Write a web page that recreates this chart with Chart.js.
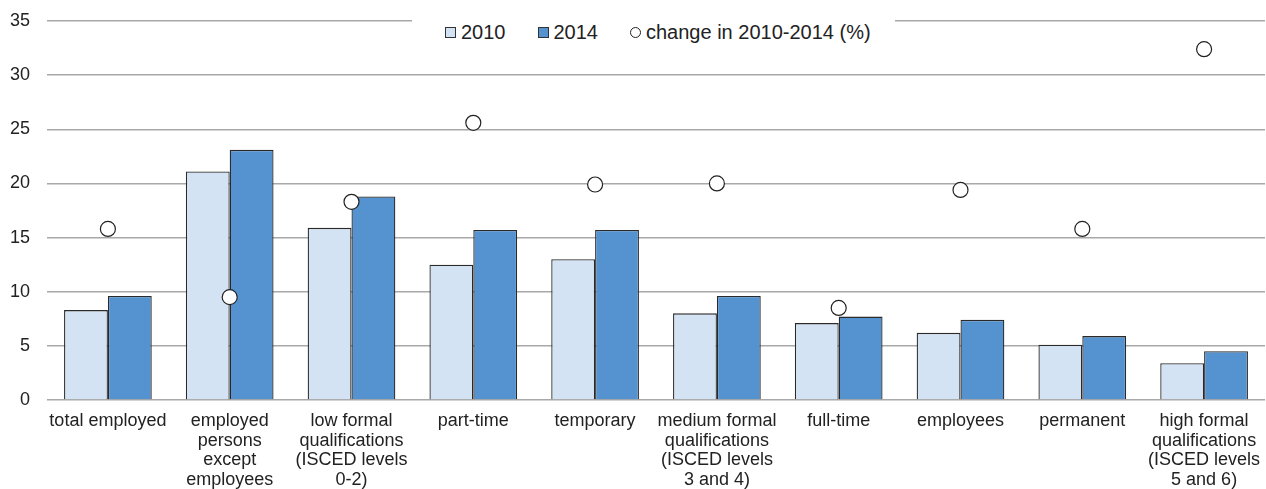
<!DOCTYPE html>
<html lang="en">
<head>
    <meta charset="UTF-8">
    <title>Employment change 2010-2014</title>
    <script src="https://cdn.jsdelivr.net/npm/chart.js"></script>
    <style>
        html, body {
            margin: 0;
            padding: 0;
            background: #fff;
        }

        .wrap {
            position: relative;
            width: 1266px;
            height: 489px;
        }

        .legend {
            position: absolute;
            left: 412px;
            top: 12px;
            width: 483px;
            height: 40px;
            padding-left: 33px;
            box-sizing: border-box;
            background: #fff;
            display: flex;
            align-items: center;
            gap: 32px;
            font-family: "Liberation Sans", Arial, sans-serif;
            font-size: 20px;
            color: #222;
        }

        .legend-item {
            display: flex;
            align-items: center;
            gap: 5px;
        }

        .legend-item .box {
            width: 9px;
            height: 9px;
            border: 1px solid #333;
        }

        .legend-item .dot {
            width: 9px;
            height: 9px;
            border: 1px solid #222;
            border-radius: 50%;
            background: #fff;
        }
    </style>
</head>
<body>
    <div class="wrap">
        <canvas id="chart" width="1266" height="489"></canvas>
        <div class="legend">
            <div class="legend-item"><span class="box" style="background:#d4e3f4"></span><span>2010</span></div>
            <div class="legend-item"><span class="box" style="background:#5592d0"></span><span>2014</span></div>
            <div class="legend-item"><span class="dot"></span><span>change in 2010-2014 (%)</span></div>
        </div>
    </div>

    <script>
        const categories = [
            ['total employed'],
            ['employed', 'persons', 'except', 'employees'],
            ['low formal', 'qualifications', '(ISCED levels', '0-2)'],
            ['part-time'],
            ['temporary'],
            ['medium formal', 'qualifications', '(ISCED levels', '3 and 4)'],
            ['full-time'],
            ['employees'],
            ['permanent'],
            ['high formal', 'qualifications', '(ISCED levels', '5 and 6)']
        ];
        const values2010 = [8.3, 21.1, 15.9, 12.5, 13.0, 8.0, 7.1, 6.2, 5.1, 3.4];
        const values2014 = [9.6, 23.1, 18.8, 15.7, 15.7, 9.6, 7.7, 7.4, 5.9, 4.5];
        const changePct = [15.8, 9.5, 18.3, 25.6, 19.9, 20.0, 8.5, 19.4, 15.8, 32.4];
        const yTicks = [0, 5, 10, 15, 20, 25, 30, 35];

        Chart.defaults.font.family = '"Liberation Sans", Arial, sans-serif';
        Chart.defaults.font.size = 18;
        Chart.defaults.color = '#222';

        const ctx = document.getElementById('chart').getContext('2d');
        new Chart(ctx, {
            type: 'bar',
            data: {
                labels: categories,
                datasets: [{
                    type: 'line',
                    label: 'change in 2010-2014 (%)',
                    data: changePct,
                    showLine: false,
                    pointRadius: 7.5,
                    pointBackgroundColor: '#fff',
                    pointBorderColor: '#222',
                    pointBorderWidth: 1.2,
                    order: 0
                }, {
                    label: '2010',
                    data: values2010,
                    backgroundColor: '#d4e3f4',
                    borderColor: '#2a2a2a',
                    borderWidth: 1.3,
                    order: 1
                }, {
                    label: '2014',
                    data: values2014,
                    backgroundColor: '#5592d0',
                    borderColor: '#2a2a2a',
                    borderWidth: 1.3,
                    order: 1
                }]
            },
            options: {
                responsive: false,
                animation: false,
                layout: {
                    autoPadding: false,
                    padding: { left: 0, right: 1, top: 21, bottom: 0 }
                },
                datasets: {
                    bar: {
                        categoryPercentage: 0.72,
                        barPercentage: 1
                    }
                },
                plugins: {
                    legend: { display: false },
                    tooltip: { enabled: false }
                },
                scales: {
                    x: {
                        grid: { display: false },
                        border: { display: false },
                        afterFit: axis => {
                            axis.paddingLeft = 0;
                            axis.paddingRight = 0;
                            axis.height = 89;
                        },
                        ticks: {
                            maxRotation: 0,
                            autoSkip: false,
                            padding: 3,
                            font: { size: 18, lineHeight: 1.1 }
                        }
                    },
                    y: {
                        min: 0,
                        max: 35,
                        afterBuildTicks: axis => {
                            axis.ticks = yTicks.map(v => ({ value: v }));
                        },
                        afterFit: axis => {
                            axis.paddingTop = 0;
                            axis.paddingBottom = 0;
                            axis.width = 47;
                        },
                        grid: {
                            color: '#a8a8a8',
                            lineWidth: 1.5,
                            drawTicks: false
                        },
                        border: { display: false },
                        ticks: {
                            padding: 17,
                            font: { size: 18 }
                        }
                    }
                }
            }
        });
    </script>
</body>
</html>
